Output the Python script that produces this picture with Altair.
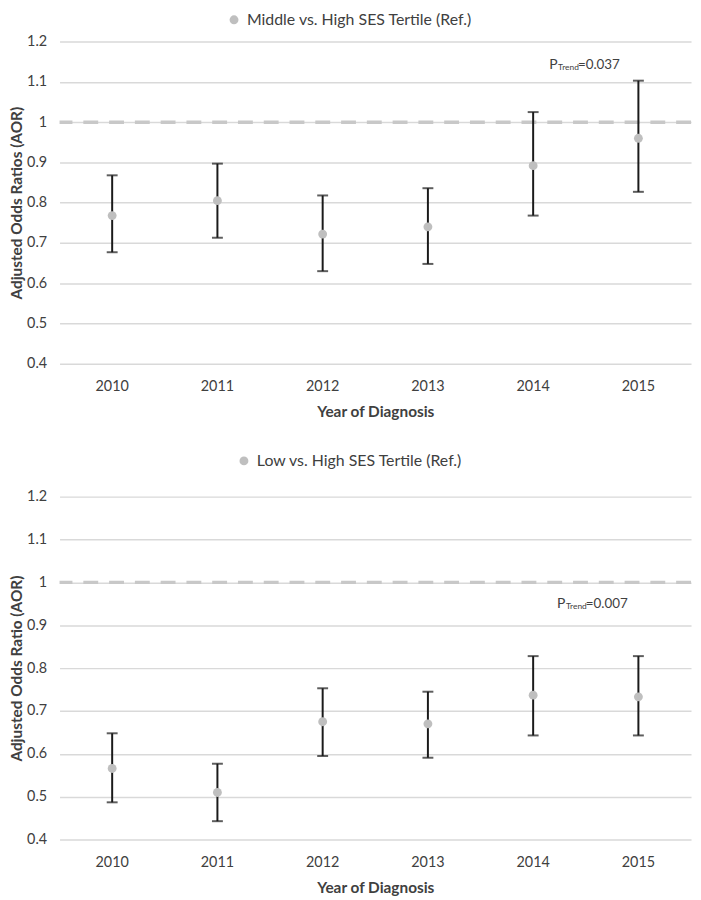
import altair as alt
import pandas as pd

years = ["2010", "2011", "2012", "2013", "2014", "2015"]

mid_aor = [0.768, 0.805, 0.722, 0.740, 0.892, 0.960]
mid_lo = [0.677, 0.713, 0.630, 0.648, 0.768, 0.827]
mid_hi = [0.868, 0.897, 0.818, 0.836, 1.025, 1.103]

low_aor = [0.566, 0.510, 0.675, 0.670, 0.737, 0.733]
low_lo = [0.487, 0.443, 0.595, 0.591, 0.643, 0.643]
low_hi = [0.648, 0.577, 0.753, 0.745, 0.828, 0.828]

y_ticks = [0.4, 0.5, 0.6, 0.7, 0.8, 0.9, 1.0, 1.1, 1.2]
ref_value = [1.0]

series_names = ["Middle vs. High SES Tertile (Ref.)", "Low vs. High SES Tertile (Ref.)"]
y_titles = ["Adjusted Odds Ratios (AOR)", "Adjusted Odds Ratio (AOR)"]
p_values = ["=0.037", "=0.007"]
p_y = [1.142, 0.949]

FONT = "Lato"
TXT = "#404040"


def panel(aor, lo, hi, series, ytitle, pval, py, pdx, height, lx, ly):
    df = pd.DataFrame({"year": years, "aor": aor, "lo": lo, "hi": hi, "series": series})
    yscale = alt.Scale(domain=[0.4, 1.2], nice=False, zero=False)
    xenc = alt.X("year:N", scale=alt.Scale(type="band", paddingInner=0, paddingOuter=0),
                 axis=alt.Axis(title="Year of Diagnosis", labelAngle=0, ticks=False, domain=False,
                               grid=False, labelFontSize=14.5, labelColor=TXT, labelFont=FONT,
                               labelPadding=16, titleFontSize=15.5, titleFont=FONT, titleColor=TXT,
                               titleFontWeight="bold", titlePadding=12))
    yaxis = alt.Axis(title=ytitle, values=y_ticks, format=".1~f", ticks=False, domain=False,
                     grid=True, gridColor="#d9d9d9", gridWidth=1.5, labelFontSize=14.5,
                     labelColor=TXT, labelFont=FONT, labelPadding=13, titleFontSize=15.5,
                     titleFont=FONT, titleColor=TXT, titleFontWeight="bold", titlePadding=2)
    base = alt.Chart(df)
    bars = base.mark_rule(color="#1a1a1a", strokeWidth=2).encode(
        x=xenc, y=alt.Y("lo:Q", scale=yscale, axis=yaxis), y2="hi:Q")
    cap_lo = base.mark_tick(color="#1a1a1a", thickness=2, size=11, orient="horizontal").encode(
        x=xenc, y=alt.Y("lo:Q", scale=yscale))
    cap_hi = base.mark_tick(color="#1a1a1a", thickness=2, size=11, orient="horizontal").encode(
        x=xenc, y=alt.Y("hi:Q", scale=yscale))
    ref = alt.Chart(pd.DataFrame({"v": ref_value})).mark_rule(
        color="#c8c8c8", strokeWidth=3.5, strokeDash=[15, 11]).encode(y=alt.Y("v:Q", scale=yscale))
    pts = base.mark_circle(size=80, opacity=1).encode(
        x=xenc, y=alt.Y("aor:Q", scale=yscale),
        color=alt.Color("series:N", scale=alt.Scale(range=["#bfbfbf"]),
                        legend=alt.Legend(title=None, orient="none", legendX=lx, legendY=ly,
                                          symbolType="circle", symbolSize=80, symbolStrokeWidth=0,
                                          labelFontSize=16, labelColor=TXT, labelFont=FONT,
                                          labelOffset=5, labelLimit=0, padding=0)))
    ann = pd.DataFrame({"year": ["2015"], "v": [py], "p": ["P"], "t": ["Trend"], "val": [pval]})
    a = alt.Chart(ann)
    t1 = a.mark_text(align="left", baseline="middle", fontSize=14, font=FONT, color=TXT, dx=pdx).encode(
        x=alt.X("year:N"), y=alt.Y("v:Q", scale=yscale), text="p:N")
    t2 = a.mark_text(align="left", baseline="middle", fontSize=8.5, font=FONT, color=TXT, dx=pdx + 9, dy=2).encode(
        x=alt.X("year:N"), y=alt.Y("v:Q", scale=yscale), text="t:N")
    t3 = a.mark_text(align="left", baseline="middle", fontSize=13.5, font=FONT, color=TXT, dx=pdx + 29).encode(
        x=alt.X("year:N"), y=alt.Y("v:Q", scale=yscale), text="val:N")
    return alt.layer(ref, bars, cap_lo, cap_hi, pts, t1, t2, t3).properties(width=637, height=height)


top = panel(mid_aor, mid_lo, mid_hi, series_names[0], y_titles[0], p_values[0], p_y[0], -90, 325, 168, -30)
bottom = panel(low_aor, low_lo, low_hi, series_names[1], y_titles[1], p_values[1], p_y[1], -82, 346, 178, -44)

chart = alt.vconcat(top, bottom, spacing=33).resolve_scale(color="independent").resolve_legend(
    color="independent").properties(padding={"left": 1, "top": 0, "right": 0, "bottom": 0}).configure_view(stroke=None)

chart.save("out.html", embed_options={"renderer": "svg", "actions": False})
